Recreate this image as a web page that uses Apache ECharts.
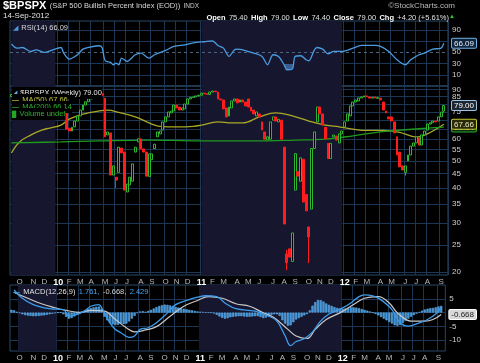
<!DOCTYPE html>
<html><head><meta charset="utf-8">
<script src="https://cdn.jsdelivr.net/npm/echarts@6/dist/echarts.min.js"></script>
<style>html,body{margin:0;padding:0;background:#000;}#c{width:480px;height:363px;}</style>
</head><body><div id="c"></div>
<script>
// ---------- DATA ----------
const firstWeek = '2009-09-11';   // weekly bars (Fridays)
const weekCount = 158;
const openV = [85,86.5,86,85,84,84.5,83,78,73,75,76,74.5,72.5,76,79,81,82.5,84,83.6,77.5,
75,65.5,64,66.2,69.5,72.5,76.1,79.3,81.5,83.4,85,86,86.5,87,84,62,63,44.5,43.7,45.5,
55.6,53.8,38.7,41,42.3,53.8,58.5,60,55.2,53.8,44,50.5,55.4,61,62.5,64.5,69,71.9,74.3,75.5,
79.3,78,76.1,76.8,80,83.4,84.5,84.8,85.5,86,87.5,87.2,86.5,88.3,89,88.3,83.4,82.7,77.4,72.5,
77.4,82,83.4,81.3,82.7,81.3,83.4,78,76.1,72.5,73.7,69,63.5,59.5,59.8,70,71.9,69,70,56,
23.2,24.2,21.8,39.3,45.8,42.3,50.7,37.9,29,33.6,55.4,69,78,73.7,66,57.8,51,61,61.4,58,
62.5,66.2,69.5,72.5,78.7,81.3,82,84.1,84.8,85.5,84.8,84,84.8,83.8,84,81.3,75.5,71.9,71.9,69,
61,53.8,48,45.5,50,52.5,56.5,58,60.5,57,62,64.5,67.8,68.5,69.5,69.5,72,75.4];
const closeV = [86.5,86,85,84,84.5,83,78,73,75,76,74.5,72.5,76,79,81,82.5,84,83.6,83,75,
65,64,66,69.5,72.5,76.1,79.3,81.5,83.4,85,86,86.5,87,86,61,63.5,44.5,48,42.7,56,
53.4,39.3,41.3,43.7,48.8,56,60,55.2,53.8,44.1,53,53,57.4,63.5,64,69,71.9,74.9,75.5,79.3,
77.4,76.1,77.4,80,83.4,84.5,84.8,85.5,86,87.5,87,86.5,88.3,89,88.5,83.4,82.7,76.8,71.9,78,
82,83.4,80.7,82.7,81.3,78.7,78,75.5,73.7,74.9,71.9,64.5,59.8,61,69,71.9,69.5,70.5,59.8,29.7,
21.6,22.6,27.6,53.1,44.1,51.3,35.6,33.1,26.7,55.4,63.5,78,73.7,67.2,60,51,57.8,61.9,59.4,62.5,
64,69,73.7,78.7,81.3,82.7,84.1,84.8,85.5,85,84,84.5,84,84.3,82.7,76.1,74.3,70.7,69.5,63,
52.5,47.6,46.4,48,52.5,56.5,58,61,57,62,64,67.8,68.5,69.5,69,71.9,74.8,79];
// wick extremes beyond the body: [week index, low, high]
const wicks = [[38,40,43.7],[100,20.3,24],[108,21.5,29],[143,44.3,48],[157,74.4,79]];
// moving averages read at sample weeks [week index, value]
const ma50 = [[0,53.4],[3,58.5],[7,61.9],[11,64.5],[14,65.6],[18,67.2],[21,70.6],[25,73.1],[28,74.3],[32,75.6],[35,76],[39,74.6],[45,71.9],[51,67.8],[54,66.5],[60,66.2],[66,66.5],[69,67.2],[75,69],[80,68.4],[84,68.4],[90,71.9],[96,74.3],[102,72.5],[108,69.5],[114,67.2],[119,66.2],[124,65],[129,64.3],[135,64.3],[141,63.3],[147,60.9],[151,62.5],[157,67.66]];
const ma200 = [[0,58],[18,58.5],[32,59],[50,59.4],[68,59],[89,59],[103,59.4],[114,59.9],[124,61.5],[132,63.2],[139,64.2],[148,65.2],[157,66.14]];
const rsi = [[0,64.6],[2,57.4],[4,58.5],[7,51.5],[9,54.4],[12,49.7],[15,54.4],[18,58.5],[19,48.5],[21,37.9],[24,45.6],[26,55.6],[28,58.5],[32,61.6],[33,57.4],[34,35.4],[36,31.9],[37,27.8],[38,30.8],[39,27.8],[40,39.6],[42,33.6],[43,36.7],[45,45.6],[47,48.5],[50,39.6],[52,45.6],[56,53.2],[59,60.4],[63,63.3],[67,67.4],[70,68.7],[73,70],[75,62],[77,57.4],[79,42.6],[81,54.4],[82,55.6],[84,54.4],[88,48.5],[91,42.6],[93,27.8],[95,45.6],[97,42.6],[99,27.8],[100,18.9],[102,20.1],[103,42.6],[105,43.8],[107,36.7],[108,34.9],[110,54.4],[111,58.5],[113,55.6],[115,47.3],[117,51.5],[120,51.5],[124,57.4],[127,62.1],[132,62.1],[134,60.4],[137,51.5],[140,36.7],[143,27.8],[145,36.7],[148,45.6],[150,48.5],[153,55.6],[156,57.4],[157,66.09]];
const macd = [[1,8.2],[4,5.2],[8,2.9],[12,1.7],[15,1.3],[19,1.1],[21,-1.3],[24,-0.7],[27,0.8],[29,2.3],[32,2.9],[33,1.7],[36,-3.7],[38,-6.1],[40,-7.3],[43,-9.0],[45,-8.5],[47,-6.1],[50,-5.5],[53,-3.7],[57,-0.1],[60,2.9],[64,4.4],[68,5.6],[71,6.1],[75,5.8],[78,3.5],[82,1.4],[89,0.5],[94,-1.3],[97,-3.1],[100,-8.5],[102,-12.0],[104,-10.5],[107,-9.5],[110,-7],[113,-3],[116,-0.5],[119,0.8],[121,1.7],[124,3.5],[127,5.8],[129,6.4],[132,6.1],[135,4.6],[139,1.1],[142,-3.7],[145,-4.9],[149,-3.7],[152,-2.5],[155,-0.5],[157,1.761]];
const signal = [[1,7.3],[6,5.2],[11,3.2],[15,2.0],[20,0.8],[25,0.1],[29,0.8],[34,0.5],[38,-2.5],[42,-5.5],[45,-7.0],[49,-6.3],[53,-5.1],[58,-1.3],[63,2.3],[68,4.4],[72,5.8],[77,5.2],[82,3.2],[87,2.3],[92,-0.1],[96,-1.9],[101,-6.1],[104,-8.5],[108,-9.4],[111,-6.1],[115,-2.5],[120,-0.1],[125,2.9],[129,5.2],[134,5.8],[138,3.5],[141,-0.1],[146,-3.1],[151,-3.1],[154,-2.5],[157,-0.668]];
const hist = [1.0,0.8,0.3,-0.2,
-0.6,-0.9,-1.1,-1.2,-1.3,-1.3,-1.2,-1.1,-1.0,-0.8,-0.6,-0.4,
-0.2,0.0,0.1,-0.6,-1.5,
-2.2,-2.0,-1.4,-0.8,-0.2,0.3,
0.8,1.2,1.6,1.9,2.1,2.2,1.4,
-1.5,-2.8,-3.8,-4.3,-4.5,-4.4,-4.0,-4.2,-4.0,-3.2,-2.2,-1.2,
-0.2,0.4,0.5,0.3,0.6,1.0,1.5,2.0,2.4,2.7,2.9,2.8,
2.6,2.4,2.1,1.8,1.6,1.4,1.2,1.0,0.8,0.6,0.4,
0.3,0.2,0.1,0.1,0.0,-0.3,-0.8,-1.4,-1.9,-2.2,
-2.0,-1.7,-1.5,-1.4,-1.3,-1.3,-1.4,-1.5,-1.5,-1.4,-1.3,-1.3,
-1.6,-2.0,-1.8,-1.2,-0.8,-0.6,-0.6,-1.2,-2.8,
-4.0,-4.8,-4.6,-3.5,-2.5,-2.0,
-1.5,-1.0,-0.5,0.8,2.5,3.8,4.6,
4.5,4.0,3.3,2.8,2.4,2.0,1.7,1.5,
1.4,1.5,1.7,1.9,1.9,1.8,1.6,1.3,1.0,0.7,0.4,
0.0,-0.5,-1.0,-1.6,-2.2,-2.8,-3.4,-4.0,-4.6,
-4.8,-4.5,-3.8,-3.0,-2.2,-1.5,-0.9,
-0.4,0.2,0.7,1.1,1.4,1.6,1.7,1.9,2.2,2.429];
const priceGrid = [20,25,30,35,40,45,50,55,60,65,70,75,80,85,90];
const priceLabels = [20,25,30,35,40,45,50,55,60,75,85,90,66.14,67.66,79];
const rsiGrid = [10,30,70,90];
const rsiLabels = [10,30,50,90,66.09];
const rsiOversold = 30;
const macdGrid = [-10,-5,0,5];
const macdLabels = [-10,-5,5,-0.668,1.761];
// shaded years: [first week index, last week index]
const shadedYears = [[0,16],[69,120]];

// ---------- BUILD ----------
const N = weekCount + 1;
const cats = [], monthStart = {};
const t0 = Date.UTC(2009,8,11);
let prevKey = null;
for (let i = 0; i < N; i++) {
  const d = new Date(t0 + (i*7 - 1) * 864e5); // Thursday of the week
  const key = d.getUTCFullYear()*12 + d.getUTCMonth();
  cats.push(String(i));
  if (prevKey !== null && key !== prevKey) {
    monthStart[i] = d.getUTCMonth() === 0 ? '{y|' + String(d.getUTCFullYear()).slice(2) + '}' : '{m|' + 'JFMAMJJASOND'[d.getUTCMonth()] + '}';
  }
  prevKey = key;
}
const candles = [];
for (let i = 0; i < weekCount; i++) {
  const o = openV[i], c = closeV[i];
  let lo = Math.min(o, c), hi = Math.max(o, c);
  wicks.forEach(w => { if (w[0] === i) { lo = w[1]; hi = w[2]; } });
  candles.push([o, c, lo, hi]);
}
const FONT = '"Liberation Sans", Arial, sans-serif';
const GRIDC = '#1c3656';
const near = (a, b) => Math.abs(a - b) < 0.02 * Math.max(1, Math.abs(b));
const shadeArea = {silent: true, itemStyle: {color: '#16162e'},
  data: shadedYears.map(r => [{xAxis: cats[r[0]]}, {xAxis: cats[r[1]]}])};

function xAxisFor(gi, showLabels) {
  return {
    type: 'category', gridIndex: gi, data: cats, boundaryGap: true,
    axisLine: {show: false}, axisTick: {show: false},
    axisLabel: {show: showLabels, interval: (i) => !!monthStart[i], margin: 3,
      formatter: (v, i) => monthStart[i] || '',
      rich: {m: {color: '#b8b8b8', fontSize: 8, fontFamily: FONT},
             y: {color: '#ffffff', fontSize: 9, fontWeight: 'bold', fontFamily: FONT}}},
    splitLine: {show: true, interval: (i) => !!monthStart[i], lineStyle: {color: GRIDC, width: 1}}
  };
}
const numStyle = {color: '#cfcfcf', fontSize: 8, fontFamily: FONT};
const box = (bg, bd, fg) => ({color: fg, fontSize: 8, fontFamily: FONT, backgroundColor: bg, borderColor: bd, borderWidth: 1, borderRadius: 1, padding: [1, 2, 0, 2]});

const chart = echarts.init(document.getElementById('c'), null, {renderer: 'canvas'});
const option = {
  backgroundColor: '#000',
  animation: false,
  grid: [
    {left: 10, width: 446, top: 21, height: 65, show: true, borderColor: '#2b4868', borderWidth: 1, backgroundColor: 'transparent'},
    {left: 10, width: 446, top: 86, height: 189, show: true, borderColor: '#2b4868', borderWidth: 1, backgroundColor: 'transparent'},
    {left: 10, width: 446, top: 285, height: 67, show: true, borderColor: '#2b4868', borderWidth: 1, backgroundColor: 'transparent'}
  ],
  xAxis: [xAxisFor(0, false), xAxisFor(1, true), xAxisFor(2, true)],
  yAxis: [
    {type: 'value', gridIndex: 0, position: 'right', min: -10, max: 105.6,
     axisLine: {show: false}, axisTick: {show: false, customValues: rsiGrid},
     splitLine: {show: true, lineStyle: {color: GRIDC}},
     axisLabel: {customValues: rsiLabels, margin: 4, formatter: v => near(v, 66.09) ? '{b|66.09}' : '{n|' + Math.round(v) + '}',
       rich: {n: numStyle, b: box('#10243c', '#6fb0e8', '#e8f2ff')}}},
    {type: 'log', gridIndex: 1, position: 'right', min: 19.5, max: 92.8,
     axisLine: {show: false}, axisTick: {show: false, customValues: priceGrid},
     splitLine: {show: true, lineStyle: {color: GRIDC}},
     axisLabel: {customValues: priceLabels, margin: 4, formatter: v => {
        if (near(v, 79)) return '{a|79.00}';
        if (near(v, 67.66)) return '{m5|67.66}';
        if (near(v, 66.14)) return '{m2|66.14}';
        return '{n|' + Math.round(v) + '}'; },
       rich: {n: numStyle, a: box('#1d2733', '#9cc4e6', '#ffffff'), m5: box('#2a2a08', '#c8c83a', '#e8e8c0'), m2: box('#0b2a0b', '#2ea62e', '#cde8cd')}}},
    {type: 'value', gridIndex: 2, position: 'right', min: -13.93, max: 10,
     axisLine: {show: false}, axisTick: {show: false, customValues: macdGrid},
     splitLine: {show: true, lineStyle: {color: GRIDC}},
     axisLabel: {customValues: macdLabels, margin: 4, formatter: v => {
        if (near(v, 1.761)) return '{a|1.761}';
        if (near(v, -0.668)) return '{g|-0.668}';
        return '{n|' + Math.round(v) + '}'; },
       rich: {n: numStyle, a: box('#10243c', '#4a9ee8', '#e8f2ff'), g: box('#d8d8d8', '#ffffff', '#222')}}}
  ],
  series: [
    {type: 'line', name: 'RSI', xAxisIndex: 0, yAxisIndex: 0, data: rsi, smooth: 0.3, symbol: 'none',
     lineStyle: {color: '#4a9be0', width: 1.3}, z: 5, markArea: shadeArea,
     markLine: {silent: true, symbol: 'none', label: {show: false}, lineStyle: {color: '#4b6580', type: [3, 3], width: 1}, data: [{yAxis: 50}]}},
    {type: 'candlestick', name: 'BPSPX', xAxisIndex: 1, yAxisIndex: 1, data: candles, barWidth: 2.4,
     itemStyle: {color: '#000', color0: '#ff1c1c', borderColor: '#2fb82f', borderColor0: '#ff1c1c', borderWidth: 1}, z: 6,
     markArea: shadeArea},
    {type: 'line', name: 'MA50', xAxisIndex: 1, yAxisIndex: 1, data: ma50, smooth: 0.4, symbol: 'none',
     lineStyle: {color: '#a9a828', width: 1.3}, z: 4},
    {type: 'line', name: 'MA200', xAxisIndex: 1, yAxisIndex: 1, data: ma200, smooth: 0.4, symbol: 'none',
     lineStyle: {color: '#1f9a1f', width: 1.3}, z: 4},
    {type: 'bar', name: 'Hist', xAxisIndex: 2, yAxisIndex: 2, data: hist, barWidth: 2.2,
     itemStyle: {color: '#3a8fd8', borderColor: '#6cb8f0', borderWidth: 0.5}, z: 3, markArea: shadeArea},
    {type: 'line', name: 'Signal', xAxisIndex: 2, yAxisIndex: 2, data: signal, smooth: 0.4, symbol: 'none',
     lineStyle: {color: '#c8c8c8', width: 1.2}, z: 5},
    {type: 'line', name: 'MACD', xAxisIndex: 2, yAxisIndex: 2, data: macd, smooth: 0.4, symbol: 'none',
     lineStyle: {color: '#3d9cec', width: 1.3}, z: 6}
  ],
  graphic: [
    {type: 'text', left: 3, top: 0, z: 100, style: {
      text: '{t|$BPSPX} {s|(S&P 500 Bullish Percent Index (EOD))} {i|INDX}',
      rich: {t: {fontSize: 11, fontWeight: 'bold', fill: '#fff', fontFamily: FONT},
             s: {fontSize: 7.5, fill: '#d8d8d8', fontFamily: FONT},
             i: {fontSize: 6.5, fill: '#c8c8c8', fontFamily: FONT}}}},
    {type: 'text', left: 3, top: 12, z: 100, style: {text: '14-Sep-2012', fontSize: 8, fill: '#e0e0e0', fontFamily: FONT}},
    {type: 'text', right: 25, top: 2, z: 100, style: {text: '\u00A9StockCharts.com', fontSize: 8, fill: '#b8b8b8', fontFamily: FONT}},
    {type: 'text', right: 31, top: 12, z: 100, style: {
      text: '{b|Open} {n|75.40} {b|High} {n|79.00} {b|Low} {n|74.40} {b|Close} {n|79.00} {b|Chg} {n|+4.20 (+5.61%)}',
      rich: {b: {fontSize: 7.5, fontWeight: 'bold', fill: '#fff', fontFamily: FONT}, n: {fontSize: 7.5, fill: '#e0e0e0', fontFamily: FONT}}}},
    {type: 'text', right: 25, top: 13, z: 100, style: {text: '\u25B2', fontSize: 6, fill: '#2fd02f'}},
    {type: 'text', left: 13, top: 22, z: 100, style: {text: '{i|\u25E2} {t|RSI(14) 66.09}',
      rich: {i: {fontSize: 7, fill: '#4a9be0'}, t: {fontSize: 7.5, fill: '#d8d8d8', fontFamily: FONT}}}},
    {type: 'text', left: 12, top: 87, z: 100, style: {text: '{i|\u25E2} {t|$BPSPX (Weekly) 79.00}', backgroundColor: '#000',
      rich: {i: {fontSize: 7, fill: '#6aa7df'}, t: {fontSize: 7.5, fill: '#e0e0e0', fontFamily: FONT}}}},
    {type: 'text', left: 12, top: 94, z: 100, style: {text: '{i|\u2014} {t|MA(50) 67.66}', backgroundColor: '#000',
      rich: {i: {fontSize: 7, fill: '#b5b42c', fontWeight: 'bold'}, t: {fontSize: 7.5, fill: '#c4c33a', fontFamily: FONT}}}},
    {type: 'text', left: 12, top: 101, z: 100, style: {text: '{i|\u2014} {t|MA(200) 66.14}', backgroundColor: '#000',
      rich: {i: {fontSize: 7, fill: '#23a823', fontWeight: 'bold'}, t: {fontSize: 7.5, fill: '#2fb42f', fontFamily: FONT}}}},
    {type: 'text', left: 12, top: 108, z: 100, style: {text: '{i|\u2588} {t|Volume undef}', backgroundColor: '#000',
      rich: {i: {fontSize: 6, fill: '#23a823'}, t: {fontSize: 7.5, fill: '#2fb42f', fontFamily: FONT}}}},
    {type: 'text', left: 13, top: 286, z: 100, style: {text: '{i|\u2014} {w|MACD(12,26,9)} {a|1.761,} {g|-0.668,} {a|2.429}',
      rich: {i: {fontSize: 7, fill: '#3d9cec', fontWeight: 'bold'}, w: {fontSize: 7.5, fill: '#e0e0e0', fontFamily: FONT},
             a: {fontSize: 7.5, fill: '#4aa2ee', fontFamily: FONT}, g: {fontSize: 7.5, fill: '#d0d0d0', fontFamily: FONT}}}}
  ]
};
chart.setOption(option);
// RSI oversold fill: area between the RSI line and the 30 level, visible only below that level
const y30 = chart.convertToPixel({yAxisIndex: 0}, rsiOversold);
chart.setOption({series: [{name: 'RSI', areaStyle: {origin: rsiOversold,
  color: new echarts.graphic.LinearGradient(0, y30, 0, y30 + 0.5, [
    {offset: 0, color: 'rgba(90,160,230,0)'}, {offset: 1, color: 'rgba(90,160,230,0.75)'}], true)}}]});
</script>
</body></html>
